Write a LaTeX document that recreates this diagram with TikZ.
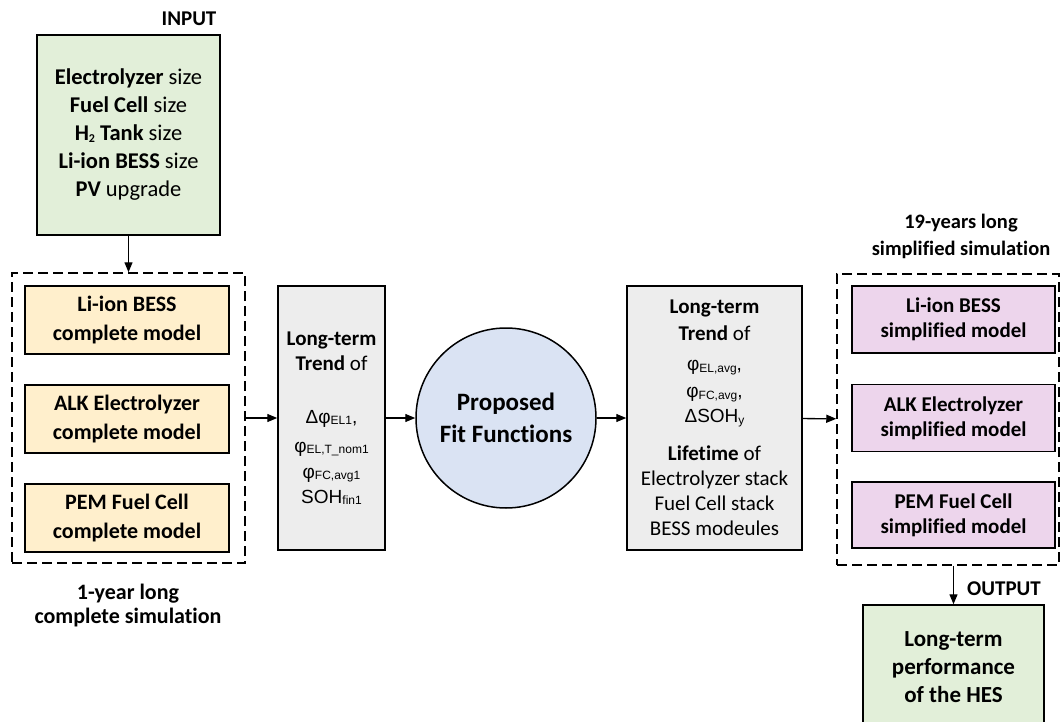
\documentclass[tikz,border=0pt]{standalone}
\usepackage{fontspec}
\setmainfont{Carlito}[Ligatures=NoCommon]
\newfontfamily\arialfont{Liberation Sans}
\usetikzlibrary{positioning}
\usetikzlibrary{arrows.meta}
\definecolor{inputgreen}{HTML}{E2EFD9}
\definecolor{modelorange}{HTML}{FFEFCC}
\definecolor{trendgray}{HTML}{EDEDED}
\definecolor{fitblue}{HTML}{DAE3F3}
\definecolor{modelpink}{HTML}{EDD5EC}
\newcommand\grk{\arialfont\fontsize{19}{25}\selectfont}
\newcommand\lo[1]{\raisebox{-1.5pt}{\fontsize{12}{12}\selectfont #1}}
\tikzset{
every node/.style={ % text and spacing of all nodes
font=\fontsize{21}{25}\selectfont,
align=center,
inner sep=0pt},
box/.style={draw, line width=1.5pt, rectangle},
inbox/.style={box, fill=inputgreen, minimum width=183pt,
  font=\fontsize{22.5}{28}\selectfont},
cmodel/.style={box, fill=modelorange, minimum width=204pt, minimum height=68pt,
  font=\bfseries\fontsize{22}{29}\selectfont},
smodel/.style={box, fill=modelpink, minimum width=203pt, minimum height=67pt,
  font=\bfseries\fontsize{21}{25}\selectfont},
trendbox/.style={box, fill=trendgray, minimum height=264pt},
dashbox/.style={draw, line width=1.5pt, dash pattern=on 10pt off 5pt},
caption/.style={font=\bfseries\fontsize{21}{26}\selectfont},
flow/.style={-{Triangle[length=10pt,width=8pt]}, line width=1.3pt}}

\begin{document}
\begin{tikzpicture}[x=1pt, y=-1pt]
\useasboundingbox (0,0) rectangle (1062,722);
\clip (0,0) rectangle (1062,722);
% input and complete models
\node[caption] (inlbl) at (189,19) {INPUT};
\node[inbox, minimum height=200pt] (inbox) at (128.5,135)
  {\textbf{Electrolyzer} size\\ \textbf{Fuel Cell} size\\ \textbf{H\lo{2} Tank} size\\
   \textbf{Li-ion BESS} size\\ \textbf{PV} upgrade};
\node[dashbox, minimum width=233pt, minimum height=290pt] (dash1) at (128.5,418) {};
\node[cmodel] (cm1) at (127,320) {Li-ion BESS\\complete model};
\node[cmodel] (cm2) at (127,419) {ALK Electrolyzer\\complete model};
\node[cmodel] (cm3) at (127,518) {PEM Fuel Cell\\complete model};
\node[caption, font=\bfseries\fontsize{22}{24}\selectfont] (cmlbl) at (128,606)
  {1-year long\\complete simulation};
% trends and fit functions
\node[trendbox, minimum width=107pt, right=31.5pt of dash1] (trend1)
  {\textbf{Long-term}\\ \textbf{Trend} of\\[28pt]
   {\grk Δφ\lo{EL1},}\\[4pt]
   {\grk φ\lo{EL,T\_nom1}}\\[1pt]
   {\grk φ\lo{FC,avg1}}\\
   {\grk SOH\lo{fin1}}};
\node[circle, draw, line width=1.5pt, fill=fitblue, minimum size=180pt,
  font=\bfseries\fontsize{25}{32}\selectfont, right=29.5pt of trend1] (fit)
  {Proposed\\Fit Functions};
\node[trendbox, minimum width=175pt, right=29.5pt of fit] (trend2)
  {\textbf{Long-term}\\[2pt] \textbf{Trend} of\\[5pt]
   {\grk φ\lo{EL,avg},}\\[2pt]
   {\grk φ\lo{FC,avg},}\\
   {\grk ΔSOH\lo{y}}\\[13pt]
   \textbf{Lifetime} of\\ Electrolyzer stack\\ Fuel Cell stack\\ BESS modeules};
% simplified models and output
\node[dashbox, minimum width=222pt, minimum height=291pt] (dash2) at (948,419.5) {};
\node[caption, font=\bfseries\fontsize{20.5}{27}\selectfont] (smlbl) at (961,236)
  {19-years long\\simplified simulation};
\node[smodel] (sm1) at (953.5,319.5) {Li-ion BESS\\simplified model};
\node[smodel] (sm2) at (953.5,418) {ALK Electrolyzer\\simplified model};
\node[smodel, minimum height=66pt] (sm3) at (953.5,515) {PEM Fuel Cell\\simplified model};
\node[box, fill=inputgreen, minimum width=181pt, minimum height=124pt,
  font=\bfseries\fontsize{23}{28}\selectfont] (outbox) at (953.5,667)
  {Long-term\\performance\\of the HES};
\node[caption] (outlbl) at (1004,589) {OUTPUT};
% connectors
\draw[flow] (inbox) -- (dash1);
\draw[flow] (dash1) -- (trend1);
\draw[flow] (trend1) -- (fit);
\draw[flow] (fit) -- (trend2);
\draw[flow] (trend2) -- (dash2);
\draw[flow] (dash2.south -| outbox.north) -- (outbox.north);
\end{tikzpicture}
\end{document}
